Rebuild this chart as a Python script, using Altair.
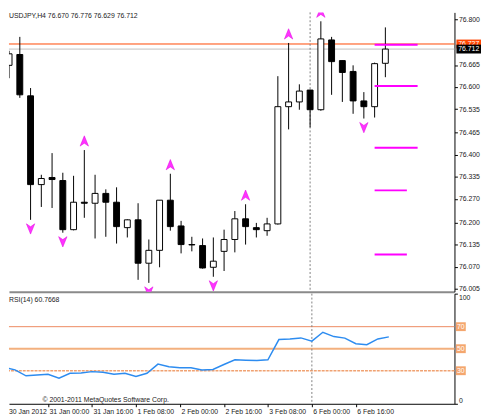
import altair as alt
import pandas as pd

# ---------------- data ----------------
opens = [76.664, 76.696, 76.574, 76.312, 76.333, 76.324, 76.179, 76.260, 76.257, 76.286,
         76.260, 76.185, 76.208, 76.080, 76.118, 76.266, 76.190, 76.135, 76.132, 76.068,
         76.115, 76.150, 76.211, 76.185, 76.176, 76.196, 76.542, 76.556, 76.591, 76.533,
         76.739, 76.678, 76.646, 76.559, 76.542, 76.670]
highs = [76.707, 76.748, 76.597, 76.341, 76.405, 76.347, 76.338, 76.414, 76.341, 76.298,
         76.304, 76.210, 76.257, 76.150, 76.266, 76.344, 76.205, 76.158, 76.153, 76.156,
         76.179, 76.234, 76.254, 76.199, 76.214, 76.632, 76.730, 76.608, 76.592, 76.794,
         76.748, 76.678, 76.664, 76.585, 76.672, 76.776]
lows = [76.626, 76.568, 76.208, 76.246, 76.243, 76.170, 76.177, 76.214, 76.153, 76.158,
        76.138, 76.156, 76.031, 76.022, 76.068, 76.176, 76.109, 76.115, 76.064, 76.040,
        76.057, 76.112, 76.135, 76.156, 76.161, 76.194, 76.475, 76.533, 76.481, 76.530,
        76.577, 76.556, 76.521, 76.507, 76.510, 76.629]
closes = [76.698, 76.577, 76.312, 76.330, 76.327, 76.179, 76.260, 76.257, 76.286, 76.260,
          76.188, 76.208, 76.080, 76.118, 76.266, 76.188, 76.135, 76.134, 76.066, 76.086,
          76.150, 76.211, 76.188, 76.179, 76.196, 76.542, 76.556, 76.588, 76.533, 76.742,
          76.675, 76.643, 76.559, 76.542, 76.669, 76.712]
rsi_values = [33.0, 30.8, 25.4, 26.2, 26.8, 23.2, 27.7, 28.0, 29.2, 28.6,
              26.8, 27.7, 24.7, 27.7, 36.0, 33.6, 32.7, 32.7, 30.6, 31.2,
              35.7, 39.9, 39.6, 39.3, 39.9, 58.3, 58.9, 59.8, 56.9, 64.9,
              61.0, 59.6, 54.5, 53.6, 58.9, 60.7668]
up_fractal_idx = [7, 15, 22, 26, 29]
down_fractal_idx = [2, 5, 13, 19, 33]
pivot_levels = [76.725, 76.603, 76.421, 76.295, 76.106]
pivot_start = [34, 34, 34, 34, 34]
pivot_end = [38, 38, 38, 37, 37]
ask_price = [76.727]
bid_price = [76.712]
price_ticks = [76.800, 76.665, 76.600, 76.535, 76.465, 76.400, 76.335,
               76.270, 76.200, 76.135, 76.070, 76.005]
x_tick_idx = [4, 8, 12, 16, 20, 24, 28, 32]
x_tick_labels = ["31 Jan 00:00", "31 Jan 16:00", "1 Feb 08:00", "2 Feb 00:00",
                 "2 Feb 16:00", "3 Feb 08:00", "6 Feb 00:00", "6 Feb 16:00"]
first_label = ["30 Jan 2012"]
separator_idx = [28]
rsi_levels = [70, 50, 30]
header = ["USDJPY,H4  76.670 76.776 76.629 76.712"]
rsi_title = ["RSI(14) 60.7668"]
copyright_text = ["\u00a9 2001-2011 MetaQuotes Software Corp."]

# ---------------- tables ----------------
n = len(opens)
df = pd.DataFrame({"i": list(range(n)), "o": opens, "h": highs, "l": lows,
                   "c": closes, "rsi": rsi_values})
df["dir"] = ["up" if c >= o else "down" for o, c in zip(opens, closes)]
df_up = pd.DataFrame({"i": up_fractal_idx, "p": [highs[k] for k in up_fractal_idx]})
df_dn = pd.DataFrame({"i": down_fractal_idx, "p": [lows[k] for k in down_fractal_idx]})
df_piv = pd.DataFrame({"s": pivot_start, "e": pivot_end, "v": pivot_levels})
df_ask = pd.DataFrame({"p": ask_price, "t": [f"{v:.3f}" for v in ask_price]})
df_bid = pd.DataFrame({"p": bid_price, "t": [f"{v:.3f}" for v in bid_price]})
df_sep = pd.DataFrame({"i": separator_idx})
df_lv = pd.DataFrame({"v": rsi_levels, "t": [str(v) for v in rsi_levels]})

FONT = "Liberation Sans"
FS = 7
TXT = "#1a1a1a"
W = 453
H_MAIN = 284
H_RSI = 112
X_DOM = [0.45, 40.97]
Y_DOM = [75.996, 76.8203]

UP = "M0,-1.1L0.85,1L0,0.4L-0.85,1Z"
DOWN = "M0,1.1L0.85,-1L0,-0.4L-0.85,-1Z"
BOX_WIDE = "M-2.78,-1H2.78V1H-2.78Z"
BOX_SMALL = "M-1.11,-1H1.11V1H-1.11Z"

xscale = alt.Scale(domain=X_DOM, nice=False, zero=False)
main_x_axis = alt.Axis(labels=False, ticks=False, domain=True, domainColor="#8a8a8a",
                       domainWidth=2, grid=False, title=None)
main_y_axis = alt.Axis(orient="right", values=price_ticks, format=".3f", tickSize=3,
                       labelPadding=1, labelFont=FONT, labelFontSize=FS, labelColor=TXT,
                       domainColor="black", tickColor="black", grid=False, title=None,
                       labelOverlap=False, labelFlush=False)
yscale = alt.Scale(domain=Y_DOM, nice=False, zero=False)


def MX(field):
    return alt.X(field, type="quantitative", scale=xscale, axis=main_x_axis)


def MY(field):
    return alt.Y(field, type="quantitative", scale=yscale, axis=main_y_axis)


base = alt.Chart(df)

ask_line = alt.Chart(df_ask).mark_rule(color="#FF4500", strokeWidth=1).encode(y=MY("p"))
bid_line = alt.Chart(df_bid).mark_rule(color="#C0C0C0", strokeWidth=1).encode(y=MY("p"))
sep_main = alt.Chart(df_sep).mark_rule(color="#808080", strokeDash=[2, 2], strokeWidth=1).encode(x=MX("i"))

wicks = base.mark_rule(color="black", strokeWidth=1, clip=True).encode(
    x=MX("i"), y=MY("l"), y2="h:Q")
bodies = base.mark_bar(width=6, stroke="black", strokeWidth=1, clip=True).encode(
    x=MX("i"), y=MY("o"), y2="c:Q",
    fill=alt.Fill("dir:N", scale=alt.Scale(domain=["up", "down"], range=["white", "black"]),
                  legend=None))

pivots = alt.Chart(df_piv).mark_rule(color="#FF00FF", strokeWidth=2).encode(
    x=MX("s"), x2="e:Q", y=MY("v"))

up_arrows = alt.Chart(df_up).mark_point(
    shape=UP, size=100, filled=True, color="#FF33FF", stroke="#E000E0", strokeWidth=0.5,
    opacity=1, yOffset=-9, clip=True).encode(x=MX("i"), y=MY("p"))
dn_arrows = alt.Chart(df_dn).mark_point(
    shape=DOWN, size=100, filled=True, color="#FF33FF", stroke="#E000E0", strokeWidth=0.5,
    opacity=1, yOffset=9, clip=True).encode(x=MX("i"), y=MY("p"))

ask_box = alt.Chart(df_ask).mark_point(shape=BOX_WIDE, size=81, filled=True, color="#FF4500",
                                       opacity=1, strokeWidth=0).encode(
    x=alt.value(W + 14.5), y=MY("p"))
ask_txt = alt.Chart(df_ask).mark_text(color="white", font=FONT, fontSize=FS, align="center",
                                      baseline="middle").encode(
    x=alt.value(W + 14.5), y=MY("p"), text="t:N")
bid_box = alt.Chart(df_bid).mark_point(shape=BOX_WIDE, size=81, filled=True, color="black",
                                       opacity=1, strokeWidth=0).encode(
    x=alt.value(W + 14.5), y=MY("p"))
bid_txt = alt.Chart(df_bid).mark_text(color="white", font=FONT, fontSize=FS, align="center",
                                      baseline="middle").encode(
    x=alt.value(W + 14.5), y=MY("p"), text="t:N")

header_txt = alt.Chart(pd.DataFrame({"t": header})).mark_text(
    align="left", baseline="middle", font=FONT, fontSize=FS, color=TXT).encode(
    x=alt.value(0), y=alt.value(4), text="t:N")

main = alt.layer(ask_line, bid_line, sep_main, wicks, bodies, pivots, up_arrows, dn_arrows,
                 ask_box, ask_txt, bid_box, bid_txt, header_txt).properties(
    width=W, height=H_MAIN)

# ---------------- RSI panel ----------------
label_expr = "[" + ",".join(f"'{s}'" for s in x_tick_labels) + "][round(datum.value/4)-1]"
rsi_x_axis = alt.Axis(values=x_tick_idx, labelExpr=label_expr, tickSize=3, labelPadding=1,
                      labelAlign="left", labelBaseline="top", labelOffset=1,
                      labelFlush=False, labelOverlap=False, labelFont=FONT, labelFontSize=FS,
                      labelColor=TXT, domainColor="black", tickColor="black", grid=False,
                      title=None)
rsi_y_axis = alt.Axis(orient="right", values=[0, 100], tickSize=3, labelPadding=1,
                      labelFlush=True, labelOverlap=False, labelFont=FONT, labelFontSize=FS,
                      labelColor=TXT, domainColor="black", tickColor="black", grid=False,
                      title=None)
rscale = alt.Scale(domain=[0, 100], nice=False, zero=False)


def RX(field):
    return alt.X(field, type="quantitative", scale=xscale, axis=rsi_x_axis)


def RY(field):
    return alt.Y(field, type="quantitative", scale=rscale, axis=rsi_y_axis)


lv70 = alt.Chart(df_lv[df_lv.v == 70]).mark_rule(color="#EE8A60", strokeWidth=1).encode(y=RY("v"))
lv50 = alt.Chart(df_lv[df_lv.v == 50]).mark_rule(color="#F3B07E", strokeWidth=2).encode(y=RY("v"))
lv30 = alt.Chart(df_lv[df_lv.v == 30]).mark_rule(color="#F0A272", strokeWidth=1.5,
                                                 strokeDash=[3, 1]).encode(y=RY("v"))
sep_rsi = alt.Chart(df_sep).mark_rule(color="#808080", strokeDash=[2, 2], strokeWidth=1).encode(x=RX("i"))
rsi_line = base.mark_line(color="#2D8CF0", strokeWidth=1.5, clip=True).encode(
    x=RX("i"), y=RY("rsi"))
lv_box = alt.Chart(df_lv).mark_point(shape=BOX_SMALL, size=81, filled=True, color="#F4A66E",
                                     opacity=1, strokeWidth=0).encode(
    x=alt.value(W + 6.5), y=RY("v"))
lv_txt = alt.Chart(df_lv).mark_text(color="white", font=FONT, fontSize=FS, align="center",
                                    baseline="middle").encode(
    x=alt.value(W + 6.5), y=RY("v"), text="t:N")
rsi_lbl = alt.Chart(pd.DataFrame({"t": rsi_title})).mark_text(
    align="left", baseline="middle", font=FONT, fontSize=FS, color=TXT).encode(
    x=alt.value(0), y=alt.value(6), text="t:N")
copy_lbl = alt.Chart(pd.DataFrame({"t": copyright_text})).mark_text(
    align="left", baseline="middle", font=FONT, fontSize=FS, color=TXT).encode(
    x=alt.value(34), y=alt.value(H_RSI - 4), text="t:N")
first_lbl = alt.Chart(pd.DataFrame({"t": first_label})).mark_text(
    align="left", baseline="top", font=FONT, fontSize=FS, color=TXT).encode(
    x=alt.value(0), y=alt.value(H_RSI + 4), text="t:N")

rsi_panel = alt.layer(lv70, lv50, lv30, sep_rsi, rsi_line, lv_box, lv_txt, rsi_lbl,
                      copy_lbl, first_lbl).properties(width=W, height=H_RSI)

chart = alt.vconcat(main, rsi_panel, spacing=2, bounds="flush").resolve_scale(
    x="independent", y="independent").properties(
    padding={"left": 0, "top": 0, "right": 0, "bottom": 0},
    background="white").configure_view(stroke=None)

chart.save("out.html", embed_options={"renderer": "svg", "actions": False})
